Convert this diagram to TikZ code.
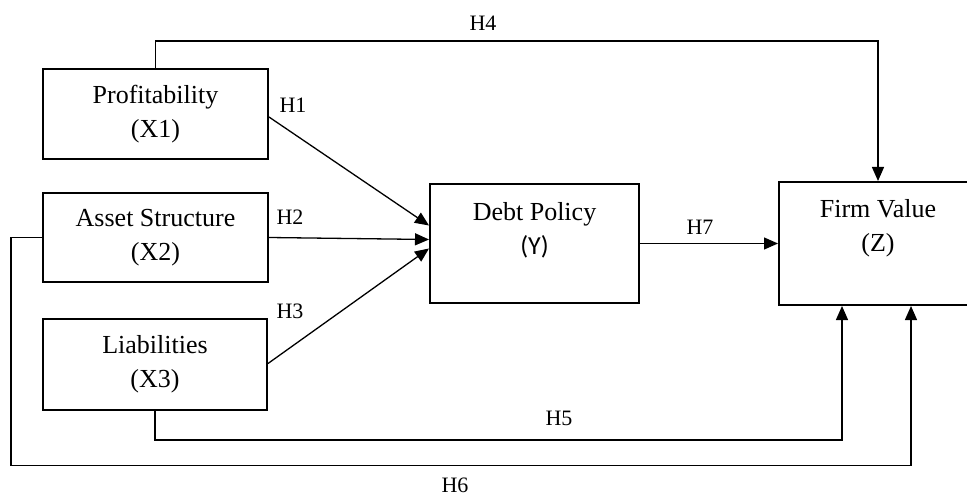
\documentclass[tikz,border=0pt]{standalone}
\usepackage{fontspec}
\setmainfont{Liberation Serif}
\newfontfamily\calfont{Carlito}
\usetikzlibrary{arrows.meta,calc}
\begin{document}
\begin{tikzpicture}[x=1pt,y=-1pt,
  box/.style={draw,line width=2pt,rectangle,inner sep=0pt,align=center,
    font=\fontsize{26}{34}\selectfont},
  toptext/.style={anchor=north,align=center,inner sep=0pt,font=\fontsize{26}{34}\selectfont},
  conn/.style={line width=1.3pt},
  arr/.style={conn,-{Triangle[length=14pt,width=12pt]}},
  hlab/.style={font=\fontsize{22}{26}\selectfont,inner sep=0pt}]
\useasboundingbox (0,0) rectangle (967,497);
\node[box,minimum width=225pt,minimum height=90pt] (p) at (155.5,114) {Profitability\\(X1)};
\node[box,minimum width=225pt,minimum height=89pt] (a) at (155.5,237.5) {Asset Structure\\(X2)};
\node[box,minimum width=224pt,minimum height=91pt] (l) at (155,364.5) {Liabilities\\(X3)};
\node[box,minimum width=209pt,minimum height=119pt] (d) at (534.5,243.5) {};
\node[toptext] (dt) at (534.5,202) {Debt Policy\\{\calfont (Y)}};
\node[box,minimum width=198pt,minimum height=123pt] (f) at (878,243.5) {};
\node[toptext] (ft) at (878,199) {Firm Value\\(Z)};
% connectors
\draw[arr] ($(p.east)+(0,3)$) -- ($(d.west)+(0,-18)$);
\draw[arr] (a.east) -- ($(d.west)+(0,-4)$);
\draw[arr] ($(l.east)+(0,-1)$) -- ($(d.west)+(0,5)$);
\draw[arr] (d.east) -- (f.west);
\draw[arr] (p.north) -- ++(0,-27) -| (f.north);
\draw[arr] (l.south) -- ++(0,29) -| ($(f.south)+(-36,0)$);
\draw[arr] (a.west) -- ++(-31,0) -- ++(0,228) -| ($(f.south)+(33,0)$);
% labels
\node[hlab] (h1) at (293,105) {H1};
\node[hlab] (h2) at (290,217) {H2};
\node[hlab] (h3) at (290,311) {H3};
\node[hlab] (h4) at (483,23) {H4};
\node[hlab] (h5) at (559,418) {H5};
\node[hlab] (h6) at (455,485) {H6};
\node[hlab] (h7) at (700,227) {H7};
\end{tikzpicture}
\end{document}
